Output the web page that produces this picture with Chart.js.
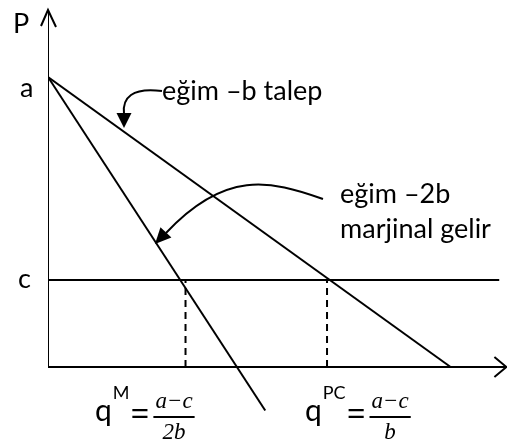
<!DOCTYPE html>
<html>
<head>
<meta charset="utf-8">
<script src="https://cdn.jsdelivr.net/npm/chart.js@4/dist/chart.umd.min.js"></script>
<style>
  html, body { margin: 0; padding: 0; background: #fff; }
  #wrap { width: 507px; height: 444px; position: relative; }
</style>
</head>
<body>
<div id="wrap"><canvas id="monopolyChart"></canvas></div>
<script>
// values (q = quantity, P = price)
const demandQ = [0, 10.1];
const demandP = [10, 0];
const mrQ = [0, 5.45];
const mrP = [10, -1.5];
const costQ = [0, 11.32];
const costP = [3, 3];
const qM = 3.45;
const qPC = 7.0;
const axisTopP = 12.31;
const axisRightQ = 11.5;

const pts = (xs, ys) => xs.map((x, i) => ({ x: x, y: ys[i] }));

function line(data, dash) {
    return {
        data: data,
        showLine: true,
        borderColor: '#000',
        borderWidth: 2,
        borderDash: dash || [],
        pointRadius: 0,
        fill: false
    };
}

function arrowHead(ctx, x, y, ang, len, half) {
    ctx.beginPath();
    ctx.moveTo(x, y);
    ctx.lineTo(x - len * Math.cos(ang) + half * Math.sin(ang), y - len * Math.sin(ang) - half * Math.cos(ang));
    ctx.lineTo(x - len * Math.cos(ang) - half * Math.sin(ang), y - len * Math.sin(ang) + half * Math.cos(ang));
    ctx.closePath();
    ctx.fill();
}

// labels, axis arrows and the curved pointers
const labels = {
    id: 'labels',
    afterDraw(chart) {
        const ctx = chart.ctx;
        const xs = chart.scales.x, ys = chart.scales.y;
        const x0 = xs.getPixelForValue(0), y0 = ys.getPixelForValue(0);
        const top = ys.getPixelForValue(axisTopP), right = xs.getPixelForValue(axisRightQ);
        ctx.save();
        ctx.strokeStyle = '#000';
        ctx.fillStyle = '#000';
        ctx.lineWidth = 2;

        // axis arrow heads
        ctx.beginPath();
        ctx.moveTo(x0 - 7, top + 16);
        ctx.lineTo(x0, top);
        ctx.lineTo(x0 + 8, top + 17);
        ctx.moveTo(right - 12, y0 - 10);
        ctx.lineTo(right, y0);
        ctx.lineTo(right - 12, y0 + 10);
        ctx.stroke();

        // curved pointers
        ctx.beginPath();
        ctx.moveTo(162, 91);
        ctx.bezierCurveTo(132, 87, 122, 98, 124, 114);
        ctx.stroke();
        arrowHead(ctx, 124, 128, Math.PI / 2, 15, 7.5);

        ctx.beginPath();
        ctx.moveTo(323, 199);
        ctx.bezierCurveTo(270, 180, 225, 170, 166, 233);
        ctx.stroke();
        arrowHead(ctx, 155, 244, Math.atan2(64, -60), 16, 7.5);

        // text
        ctx.textBaseline = 'alphabetic';
        ctx.textAlign = 'left';
        ctx.font = '27px Lato';
        ctx.fillText('P', 13, 33);
        ctx.fillText('a', 20, 97);
        ctx.fillText('c', 18, 288);
        ctx.fillText('eğim –b talep', 162, 100);
        ctx.fillText('eğim –2b', 340, 203);
        ctx.fillText('marjinal gelir', 340, 238);

        function formula(qx, sup, num, den) {
            ctx.font = '30px Lato';
            ctx.textAlign = 'left';
            ctx.fillText('q', qx, 421);
            const qw = ctx.measureText('q').width;
            ctx.font = '18px Lato';
            ctx.fillText(sup, qx + qw + 1, 399);
            const sw = ctx.measureText(sup).width;
            ctx.font = '33px "Noto Sans"';
            const ex = qx + qw + sw + 2;
            ctx.fillText('=', ex, 425);
            const fx = ex + ctx.measureText('=').width + 4;
            ctx.font = 'italic 23px "Liberation Serif"';
            const nw = ctx.measureText(num).width;
            const bw = nw + 4;
            ctx.textAlign = 'center';
            ctx.fillText(num, fx + bw / 2, 408);
            ctx.fillText(den, fx + bw / 2, 439);
            ctx.fillRect(fx, 416, bw, 2);
        }
        formula(95, 'M', 'a−c', '2b');
        formula(305, 'PC', 'a−c', 'b');
        ctx.restore();
    }
};

new Chart(document.getElementById('monopolyChart').getContext('2d'), {
    type: 'scatter',
    data: {
        datasets: [
            line(pts([0, 0], [0, axisTopP])),
            line(pts([0, axisRightQ], [0, 0])),
            line(pts(demandQ, demandP)),
            line(pts(mrQ, mrP)),
            line(pts(costQ, costP)),
            line(pts([qM, qM], [0, costP[0]]), [7, 5]),
            line(pts([qPC, qPC], [0, costP[0]]), [7, 5])
        ]
    },
    options: {
        responsive: true,
        maintainAspectRatio: false,
        animation: false,
        layout: { padding: { left: 48, right: 0, top: 0, bottom: 0 } },
        scales: {
            x: { type: 'linear', display: false, min: 0, max: 11.515 },
            y: { type: 'linear', display: false, min: -2.655, max: 12.655 }
        },
        plugins: {
            legend: { display: false },
            tooltip: { enabled: false }
        }
    },
    plugins: [labels]
});
</script>
</body>
</html>
